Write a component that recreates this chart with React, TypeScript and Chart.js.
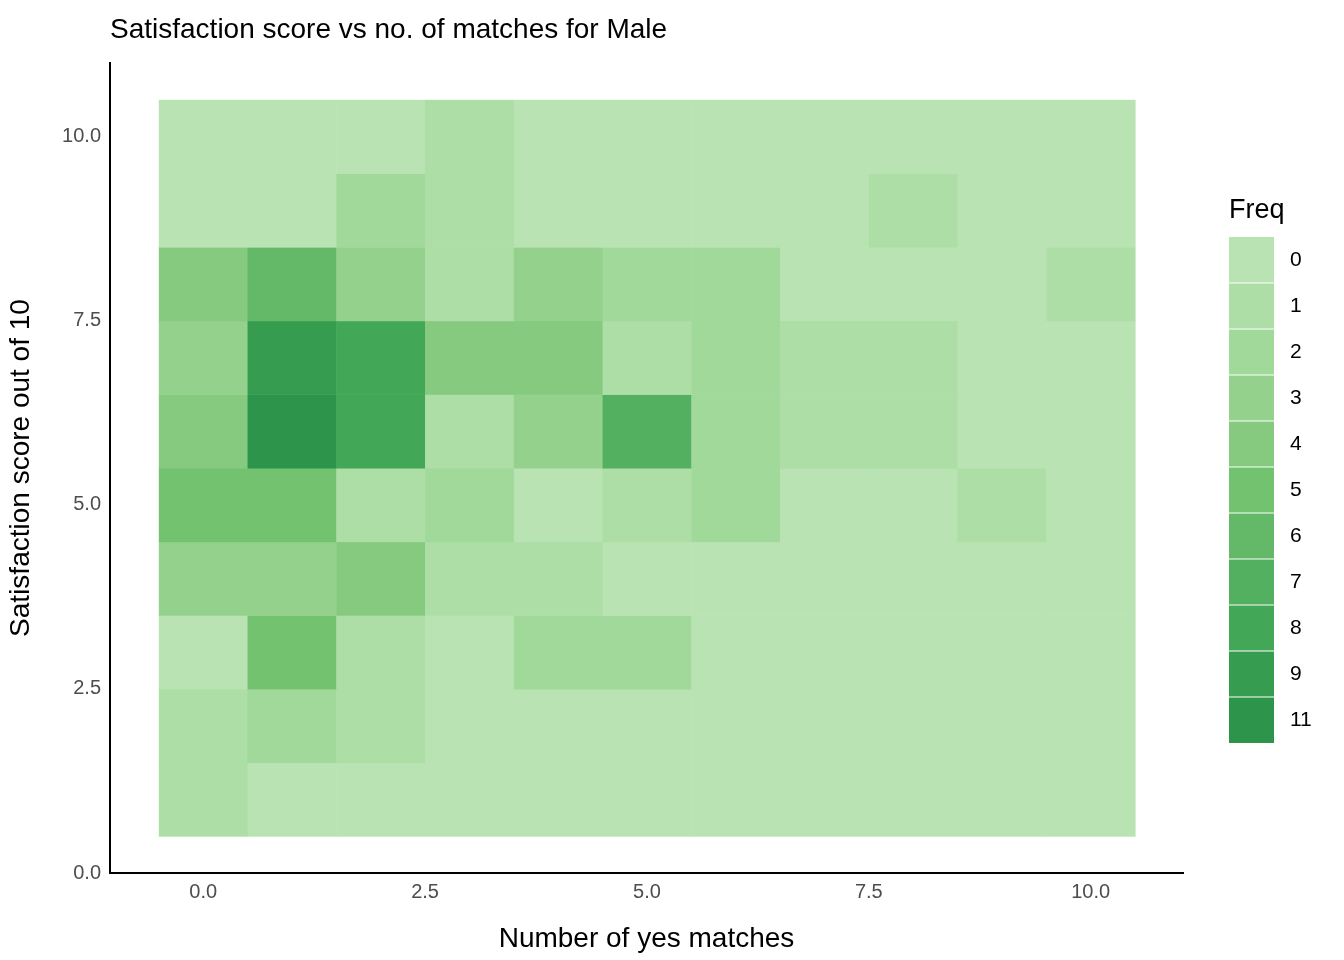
import React, { useEffect, useRef } from "react";
import { Chart, registerables } from "chart.js";
Chart.register(...registerables);

const xValues = [0, 1, 2, 3, 4, 5, 6, 7, 8, 9, 10];
const yValues = [1, 2, 3, 4, 5, 6, 7, 8, 9, 10];
// freq[row for y=1..10][x=0..10]
const freq = [
  [1, 0, 0, 0, 0, 0, 0, 0, 0, 0, 0],
  [1, 2, 1, 0, 0, 0, 0, 0, 0, 0, 0],
  [0, 5, 1, 0, 2, 2, 0, 0, 0, 0, 0],
  [3, 3, 4, 1, 1, 0, 0, 0, 0, 0, 0],
  [5, 5, 1, 2, 0, 1, 2, 0, 0, 1, 0],
  [4, 11, 8, 1, 3, 7, 2, 1, 1, 0, 0],
  [3, 9, 8, 4, 4, 1, 2, 1, 1, 0, 0],
  [4, 6, 3, 1, 3, 2, 2, 0, 0, 0, 1],
  [0, 0, 2, 1, 0, 0, 0, 0, 1, 0, 0],
  [0, 0, 0, 1, 0, 0, 0, 0, 0, 0, 0],
];
const levels = [0, 1, 2, 3, 4, 5, 6, 7, 8, 9, 11];
const levelColors = ["#b9e3b2", "#acdea6", "#a0d99a", "#93d18c", "#85ca7f", "#73c270", "#63b967", "#53b060", "#42a757", "#369d50", "#2c944b"];

const FAM = "'Liberation Sans', Arial, sans-serif";

export default function App() {
  const ref = useRef<HTMLCanvasElement>(null);
  useEffect(() => {
    document.body.style.margin = "0";
    const points: any[] = [];
    yValues.forEach((y, r) => xValues.forEach((x, c) => points.push({ x, y, v: freq[r][c] })));
    const heat = {
      id: "heat",
      beforeDatasetsDraw(chart: any) {
        const { ctx, scales } = chart;
        const xs = scales.x, ys = scales.y;
        ctx.save();
        points.forEach((p) => {
          const x0 = xs.getPixelForValue(p.x - 0.5), x1 = xs.getPixelForValue(p.x + 0.5);
          const y0 = ys.getPixelForValue(p.y + 0.5), y1 = ys.getPixelForValue(p.y - 0.5);
          ctx.fillStyle = levelColors[levels.indexOf(p.v)];
          ctx.fillRect(x0, y0, x1 - x0 + 0.5, y1 - y0 + 0.5);
        });
        ctx.fillStyle = "#000";
        ctx.font = `28px ${FAM}`;
        ctx.textBaseline = "middle";
        ctx.textAlign = "left";
        ctx.fillText("Satisfaction score vs no. of matches for Male", 110, 30);
        ctx.font = `27px ${FAM}`;
        ctx.fillText("Freq", 1229, 211);
        const top = 237, h = 46;
        ctx.font = `21px ${FAM}`;
        levels.forEach((l, i) => {
          ctx.fillStyle = levelColors[i];
          ctx.fillRect(1229, top + i * h, 45, h);
          ctx.fillStyle = "#000";
          ctx.fillText(String(l), 1290, top + i * h + h / 2);
        });
        ctx.strokeStyle = "#ffffff";
        ctx.lineWidth = 1;
        for (let i = 1; i < levels.length; i++) {
          ctx.beginPath();
          ctx.moveTo(1229, top + i * h);
          ctx.lineTo(1274, top + i * h);
          ctx.stroke();
        }
        ctx.restore();
      },
    };
    const tickFont = { size: 20, family: FAM };
    const titleFont = { size: 28, family: FAM };
    const chart = new Chart(ref.current!, {
      type: "scatter",
      data: { datasets: [{ data: points, pointRadius: 0 }] },
      options: {
        animation: false,
        responsive: false,
        layout: { padding: { top: 63, right: 161, left: 0, bottom: 0 } },
        plugins: { legend: { display: false }, tooltip: { enabled: false } },
        scales: {
          x: {
            type: "linear", min: -1.05, max: 11.04,
            afterBuildTicks: (s: any) => { s.ticks = [0, 2.5, 5, 7.5, 10].map((v) => ({ value: v })); },
            afterFit: (s: any) => { s.height = 87; },
            grid: { display: false, drawTicks: true, tickLength: 5, color: "#333" },
            border: { color: "#000", width: 2 },
            ticks: { color: "#4d4d4d", font: tickFont, padding: 2, callback: (v: any) => Number(v).toFixed(1) },
            title: { display: true, text: "Number of yes matches", color: "#000", font: titleFont, padding: { top: 0 } },
          },
          y: {
            type: "linear", min: 0, max: 11.0,
            afterBuildTicks: (s: any) => { s.ticks = [0, 2.5, 5, 7.5, 10].map((v) => ({ value: v })); },
            afterFit: (s: any) => { s.width = 110; },
            grid: { display: false, drawTicks: true, tickLength: 5, color: "#333" },
            border: { color: "#000", width: 2 },
            ticks: { color: "#4d4d4d", font: tickFont, padding: 4, callback: (v: any) => Number(v).toFixed(1) },
            title: { display: true, text: "Satisfaction score out of 10", color: "#000", font: titleFont, padding: { bottom: 4 } },
          },
        },
      },
      plugins: [heat],
    });
    return () => chart.destroy();
  }, []);
  return <canvas ref={ref} width={1344} height={960} style={{ display: "block" }} />;
}
